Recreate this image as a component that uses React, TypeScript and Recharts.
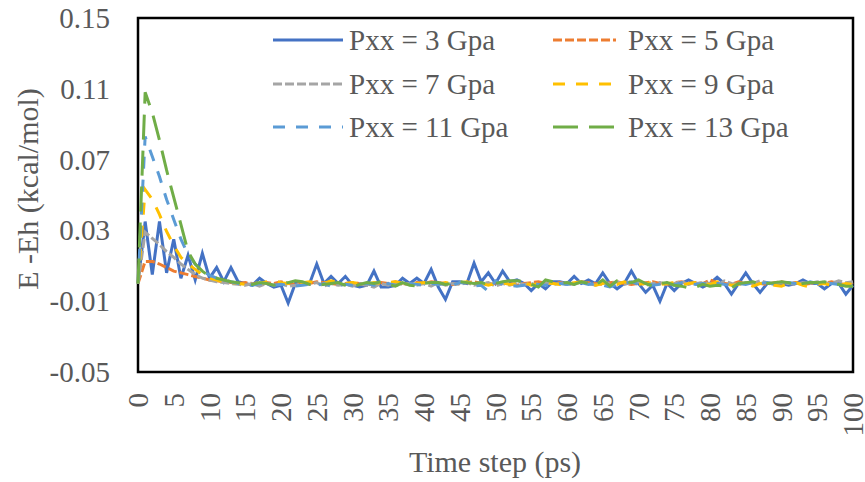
import React from 'react';
import { LineChart, Line, XAxis, YAxis, ReferenceArea } from 'recharts';

const FONT = "'Liberation Serif', 'DejaVu Serif', serif";
const TEXT = '#595959';

const timeSteps: number[] = Array.from({ length: 101 }, (_, i) => i);
const xTicks = [0, 5, 10, 15, 20, 25, 30, 35, 40, 45, 50, 55, 60, 65, 70, 75, 80, 85, 90, 95, 100];
const yTicks = [-0.05, -0.01, 0.03, 0.07, 0.11, 0.15];

const p3 = [
  0, 0.035, 0.005, 0.035, 0.006, 0.025, 0.003, 0.016, 0.002, 0.017,
  0.003, 0.009, 0.001, 0.009, 0.001, 0.0, -0.001, 0.003, 0.0, -0.002,
  -0.001, -0.011, 0.0, 0.0, 0.0, 0.011, 0.0, 0.004, 0.0, 0.004,
  -0.001, -0.002, -0.001, 0.007, -0.002, -0.002, -0.001, 0.003, 0.0, 0.003,
  0.0, 0.008, -0.002, -0.009, 0.001, 0.001, 0.0, 0.0115, 0.001, 0.006,
  0.0, 0.007, 0.001, 0.002, 0.0, -0.004, 0.0, -0.003, 0.001, 0.001,
  0.0, 0.004, 0.0, 0.002, 0.0, 0.006, 0.0, -0.003, 0.0, 0.007,
  0.0, -0.005, -0.001, -0.01, 0.0, -0.004, 0.0, 0.002, 0.0, -0.002,
  0.0, 0.0035, 0.0, -0.006, 0.0, 0.006, 0.0, -0.005, 0.0, 0.0,
  0.0, -0.001, 0.0, 0.002, 0.0, 0.0, -0.003, 0.0, 0.0, -0.006,
  -0.001,
];

const p5 = [
  0, 0.0125, 0.0125, 0.011, 0.009, 0.007, 0.006, 0.005, 0.004, 0.003,
  0.002, 0.0015, 0.001, 0.0005, 0, 0.0005, 0, -0.0005, 0.0005, 0,
  0.001, 0, -0.0005, 0.0005, 0, 0.001, 0.0005, 0, -0.0005, 0,
  0.0005, 0, -0.001, 0, 0.0005, 0, 0.001, 0, -0.0005, 0.0005,
  0, 0.001, 0.0005, 0, -0.0005, 0, 0.0005, 0.001, 0, -0.0005,
  0, 0.0005, 0, -0.001, 0, 0.0005, 0.001, 0, 0, 0.0005,
  -0.0005, 0, 0.001, 0.0005, 0, -0.0005, 0.0005, 0.001, 0, -0.0005,
  0, 0.0005, 0.001, 0, -0.0005, 0.0005, 0.001, 0, 0.0005, 0,
  0.002, 0.0005, 0, -0.0005, 0.001, 0, 0.0005, 0, -0.0005, 0.0005,
  0.001, 0, 0.0005, -0.0005, 0, 0.0005, 0, 0.001, 0, -0.0005,
  0.0005,
];

const p7 = [
  0, 0.029, 0.0255, 0.022, 0.018, 0.0148, 0.011, 0.008, 0.005, 0.003,
  0.002, 0.001, 0.0005, 0, -0.0005, -0.001, 0, -0.0015, 0, -0.001,
  0, -0.0015, -0.001, 0, -0.0005, 0.0005, -0.0015, 0, -0.001, -0.0005,
  -0.0015, 0, -0.001, -0.002, 0, -0.001, 0.0005, -0.0005, 0, -0.001,
  0, -0.0015, 0.0005, -0.001, 0, -0.0005, 0.0005, -0.001, 0, 0.0005,
  -0.0015, 0, -0.001, 0.0005, -0.0005, 0, -0.001, 0.0005, -0.0005, 0,
  0.0005, -0.0005, 0.001, 0, -0.001, 0.0005, 0, 0.001, -0.0005, 0.0005,
  0.001, -0.001, 0, 0.0005, -0.0005, 0, 0.001, -0.0005, 0, 0.0005,
  0, -0.001, 0.0015, 0, -0.0005, 0.0005, 0, 0.0015, 0.0005, 0,
  0.0005, 0, -0.0005, 0.0005, 0, 0.001, 0.0005, 0, 0.0015, 0.0005,
  0.001,
];

const p9 = [
  0, 0.053, 0.0475, 0.039, 0.0294, 0.0215, 0.0148, 0.011, 0.008, 0.005,
  0.003, 0.002, 0.001, 0.0005, 0, -0.0005, 0.0005, 0, 0.001, 0.0015,
  0.0005, 0, 0.001, 0.0005, 0.001, 0.0005, 0, 0.0015, 0.0005, 0,
  0.0005, 0, -0.0005, 0.0005, 0, 0.0005, 0.001, 0, -0.0005, 0,
  0.0005, 0, -0.0005, 0.0005, 0, 0.0005, 0.001, -0.0005, 0, -0.001,
  0, 0.0005, -0.0005, 0, 0.0005, -0.001, 0, 0.0005, 0, -0.0005,
  0, 0.0005, 0.001, -0.0005, -0.001, 0, 0.0005, -0.0005, 0.001, 0,
  -0.0005, 0, 0.0005, -0.0005, 0, 0.0005, -0.001, 0, 0.0005, 0,
  -0.0005, 0.001, 0, -0.001, -0.0005, 0, -0.0015, 0, 0.0005, -0.001,
  -0.0015, 0, 0.0005, -0.001, -0.002, -0.0005, 0, -0.001, -0.0015, 0,
  -0.0005,
];

const p11 = [
  0, 0.083, 0.0717, 0.0604, 0.0475, 0.0362, 0.025, 0.0165, 0.011, 0.007,
  0.0047, 0.003, 0.002, 0.001, 0, -0.0005, -0.001, 0, -0.0005, -0.001,
  -0.0005, -0.001, -0.0015, -0.001, -0.0005, -0.001, 0, -0.0015, -0.001, -0.0005,
  -0.001, -0.0005, 0, -0.001, -0.0005, 0, -0.001, -0.0005, 0, -0.0005,
  -0.001, 0, -0.0005, 0, -0.001, 0.0005, 0, -0.0015, -0.001, -0.0045,
  0.0015, -0.0005, -0.001, -0.0015, -0.001, 0, -0.0005, -0.001, -0.0005, 0,
  -0.0005, 0, 0.0005, -0.0005, 0, -0.001, -0.002, -0.0005, 0, 0.001,
  -0.0005, 0, -0.001, -0.0005, 0, -0.001, 0.0005, 0, -0.0005, 0,
  0.0005, 0, -0.0005, -0.001, 0, -0.0005, 0.0005, 0, 0.0005, -0.0005,
  0, 0.0005, 0, -0.0005, 0.001, 0, 0.0005, 0, -0.0005, 0,
  -0.001,
];

const p13 = [
  0, 0.108, 0.0965, 0.081, 0.064, 0.0486, 0.0334, 0.018, 0.011, 0.007,
  0.004, 0.003, 0.002, 0.001, 0.0005, 0, -0.0005, 0.0005, 0, -0.001,
  0, 0.0005, 0.0015, 0.001, -0.0005, -0.001, -0.0005, 0, 0.0005, -0.001,
  -0.002, -0.0005, 0.0005, 0, 0.001, -0.0005, -0.0015, 0.0005, -0.001, -0.0015,
  0, 0.0005, 0.0005, -0.0005, 0, 0.001, 0.0005, 0, 0.0005, -0.0005,
  0, 0.001, 0.0015, 0.0015, 0.001, -0.0005, -0.002, 0.002, 0.001, 0,
  0.0005, -0.0005, 0.001, 0, -0.001, 0.002, -0.0015, 0.0015, 0.0015, 0.0005,
  0.002, 0, -0.0015, 0, 0.0005, -0.001, -0.0015, -0.0025, -0.002, -0.0005,
  -0.0015, -0.001, -0.0015, -0.0025, 0, 0.0005, 0.001, -0.0005, 0, 0.0005,
  0.001, 0.0005, -0.001, 0, 0.0005, 0.0005, 0.001, 0, -0.0005, -0.0015,
  -0.0015,
];

const seriesNames = ['Pxx = 3 Gpa', 'Pxx = 5 Gpa', 'Pxx = 7 Gpa', 'Pxx = 9 Gpa', 'Pxx = 11 Gpa', 'Pxx = 13 Gpa'];
const seriesKeys = ['p3', 'p5', 'p7', 'p9', 'p11', 'p13'];
const seriesColors = ['#4472C4', '#ED7D31', '#A5A5A5', '#FFC000', '#5B9BD5', '#70AD47'];
const seriesDash = [undefined, '9 3', '9 3', '12 11', '12 11', '25 11'];

const data = timeSteps.map((t, i) => ({
  t,
  p3: p3[i],
  p5: p5[i],
  p7: p7[i],
  p9: p9[i],
  p11: p11[i],
  p13: p13[i],
}));

const textStyle = { fontFamily: FONT, fill: TEXT } as const;

const YTick = (props: any) => {
  const { x, y, payload } = props;
  return (
    <text x={x - 28} y={y} textAnchor="end" dominantBaseline="central" fontSize={29} style={textStyle}>
      {payload.value.toFixed(2)}
    </text>
  );
};

const XTick = (props: any) => {
  const { x, y, payload } = props;
  return (
    <text
      x={x}
      y={y + 21}
      transform={`rotate(-90 ${x} ${y + 21})`}
      textAnchor="end"
      dominantBaseline="central"
      fontSize={29}
      style={textStyle}
    >
      {payload.value}
    </text>
  );
};

const legendPos = [
  { lx1: 273, lx2: 343, tx: 349, y: 40 },
  { lx1: 553, lx2: 616, tx: 628, y: 40 },
  { lx1: 273, lx2: 343, tx: 349, y: 84 },
  { lx1: 553, lx2: 616, tx: 628, y: 84 },
  { lx1: 273, lx2: 343, tx: 349, y: 127 },
  { lx1: 553, lx2: 616, tx: 628, y: 127 },
];

export default function App() {
  return (
    <div style={{ position: 'absolute', left: 0, top: 0, width: 865, height: 482, background: '#fff', fontFamily: FONT }}>
      <LineChart width={865} height={482} data={data} margin={{ top: 18, right: 12, bottom: 0, left: 0 }}>
        <XAxis
          dataKey="t"
          type="number"
          domain={[0, 100]}
          ticks={xTicks}
          interval={0}
          height={110}
          tickLine={false}
          axisLine={false}
          tickSize={0}
          tickMargin={0}
          tick={<XTick />}
        />
        <YAxis
          type="number"
          domain={[-0.05, 0.15]}
          ticks={yTicks}
          interval={0}
          width={138}
          tickLine={false}
          axisLine={false}
          tickSize={0}
          tickMargin={0}
          tick={<YTick />}
        />
        {seriesKeys.map((k, i) => (
          <Line
            key={k}
            dataKey={k}
            name={seriesNames[i]}
            type="linear"
            stroke={seriesColors[i]}
            strokeWidth={3}
            strokeDasharray={seriesDash[i]}
            dot={false}
            activeDot={false}
            isAnimationActive={false}
          />
        ))}
        <ReferenceArea x1={0} x2={100} y1={-0.05} y2={0.15} fill="none" fillOpacity={0} stroke="#000" strokeWidth={2.5} ifOverflow="visible" />
      </LineChart>
      <svg width={865} height={482} style={{ position: 'absolute', left: 0, top: 0, pointerEvents: 'none' }}>
        {seriesNames.map((n, i) => (
          <g key={n}>
            <line
              x1={legendPos[i].lx1}
              x2={legendPos[i].lx2}
              y1={legendPos[i].y}
              y2={legendPos[i].y}
              stroke={seriesColors[i]}
              strokeWidth={3}
              strokeDasharray={seriesDash[i]}
            />
            <text x={legendPos[i].tx} y={legendPos[i].y} dominantBaseline="central" fontSize={29} style={textStyle}>
              {n}
            </text>
          </g>
        ))}
        <text x={495} y={472} textAnchor="middle" fontSize={30} style={textStyle}>
          Time step (ps)
        </text>
        <text
          x={27}
          y={189}
          transform="rotate(-90 27 189)"
          textAnchor="middle"
          dominantBaseline="central"
          fontSize={30}
          style={textStyle}
        >
          E -Eh (kcal/mol)
        </text>
      </svg>
    </div>
  );
}
